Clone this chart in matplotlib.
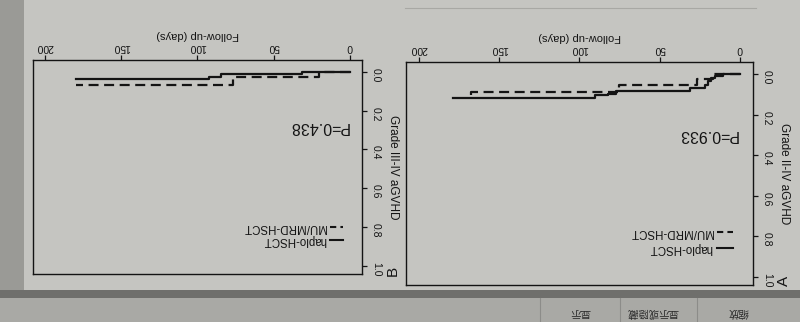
import matplotlib
matplotlib.use("Agg")
import matplotlib.pyplot as plt
from matplotlib.patches import Rectangle

plt.rcParams['font.family'] = ['Liberation Sans', 'DejaVu Sans']

# ---- data ----
a_haplo_days = [0, 10.7, 15.8, 17.9, 19.9, 22, 31.2, 77.3, 82.4, 90.6, 178.8]
a_haplo_cif = [0, 0.010, 0.021, 0.035, 0.051, 0.068, 0.084, 0.096, 0.104, 0.117, 0.117]
a_mu_days = [0, 16.8, 27, 75.3, 167.5]
a_mu_cif = [0, 0.025, 0.054, 0.090, 0.117]

b_haplo_days = [0, 31.7, 84.6, 92.2, 179.6]
b_haplo_cif = [0, 0.013, 0.025, 0.036, 0.036]
b_mu_days = [0, 20, 76.6, 179.6]
b_mu_cif = [0, 0.025, 0.071, 0.071]

x_ticks = [0, 50, 100, 150, 200]
y_ticks = [0.0, 0.2, 0.4, 0.6, 0.8, 1.0]
y_tick_labels = ["0.0", "0.2", "0.4", "0.6", "0.8", "1.0"]
series_names = ["haplo-HSCT", "MU/MRD-HSCT"]
toolbar_labels = ["显示", "显示或隐藏", "缩放"]

paper = "#c5c5c1"
ink = "#141414"

fig = plt.figure(figsize=(8, 3.22), dpi=100, facecolor=paper)

# photo background (pixel coordinates, y down)
bg = fig.add_axes([0, 0, 1, 1])
bg.set_xlim(0, 800)
bg.set_ylim(322, 0)
bg.axis("off")
bg.add_patch(Rectangle((0, 0), 24, 290, color="#9a9a96", lw=0))
bg.add_patch(Rectangle((0, 290), 800, 8, color="#6f6f6c", lw=0))
bg.add_patch(Rectangle((0, 298), 800, 24, color="#a9a9a5", lw=0))
for sx in [540, 620, 697]:
    bg.plot([sx, sx], [298, 322], color="#8c8c89", lw=0.8)
bg.plot([405, 756], [8, 8], color="#a8a8a4", lw=0.8)
for cx, lab in zip([580, 653, 738], toolbar_labels):
    bg.text(cx, 312, lab, rotation=180, ha="center", va="center", fontsize=7.5,
            color="#2a2a2a", family=["Noto Sans CJK SC", "DejaVu Sans"])


def panel(rect, haplo_d, haplo_c, mu_d, mu_c, ylab, pval, ptxt_pos, leg_x, leg_y):
    ax = fig.add_axes(rect)
    ax.set_facecolor(paper)
    ax.step(haplo_d, haplo_c, where="post", color=ink, lw=1.6)
    ax.step(mu_d, mu_c, where="post", color=ink, lw=1.6, dashes=(4.5, 2.5))
    ax.set_xlim(208, -8)
    ax.set_ylim(1.04, -0.06)
    ax.set_xticks(x_ticks)
    ax.set_yticks(y_ticks)
    ax.set_yticklabels(y_tick_labels)
    ax.tick_params(axis="both", direction="out", length=3.5, width=0.9, labelsize=7.5,
                   colors=ink, top=True, labeltop=True, bottom=False, labelbottom=False,
                   right=True, labelright=True, left=False, labelleft=False)
    ax.tick_params(axis="x", labelrotation=180, pad=2)
    ax.tick_params(axis="y", labelrotation=-90, pad=3)
    ax.xaxis.set_label_position("top")
    ax.set_xlabel("Follow-up (days)", rotation=180, fontsize=8, color=ink, labelpad=3)
    ax.yaxis.set_label_position("right")
    ax.set_ylabel(ylab, rotation=-90, fontsize=8.5, color=ink, labelpad=4, va="bottom")
    for sp in ax.spines.values():
        sp.set_linewidth(1.0)
        sp.set_color(ink)
    ax.text(ptxt_pos[0], ptxt_pos[1], pval, transform=ax.transAxes, rotation=180,
            ha="center", va="center", fontsize=11.5, color=ink)
    # legend drawn by hand so it can be turned upside down
    for yy, name, dash in zip(leg_y, series_names, [None, (3, 2)]):
        ln, = ax.plot([leg_x[0], leg_x[1]], [yy, yy], transform=ax.transAxes,
                      color=ink, lw=1.5)
        if dash:
            ln.set_dashes(dash)
        ax.text(leg_x[0] - 0.012, yy, name, transform=ax.transAxes, rotation=180,
                ha="right", va="center", fontsize=8.3, color=ink)
    return ax


panel([406 / 800, 1 - 285 / 322, 347 / 800, 223 / 322],
      a_haplo_days, a_haplo_cif, a_mu_days, a_mu_cif,
      "Grade II-IV aGVHD", "P=0.933", (0.870, 0.673),
      (0.896, 0.942), [0.165, 0.239])
panel([33 / 800, 1 - 274 / 322, 329 / 800, 214 / 322],
      b_haplo_days, b_haplo_cif, b_mu_days, b_mu_cif,
      "Grade III-IV aGVHD", "P=0.438", (0.869, 0.687),
      (0.903, 0.942), [0.159, 0.221])

fig.text(784 / 800, 1 - 281 / 322, "A", rotation=90, ha="center", va="center",
         fontsize=11, color=ink)
fig.text(393 / 800, 1 - 271 / 322, "B", rotation=90, ha="center", va="center",
         fontsize=11, color=ink)

fig.savefig("out.png", dpi=100, facecolor=paper)
